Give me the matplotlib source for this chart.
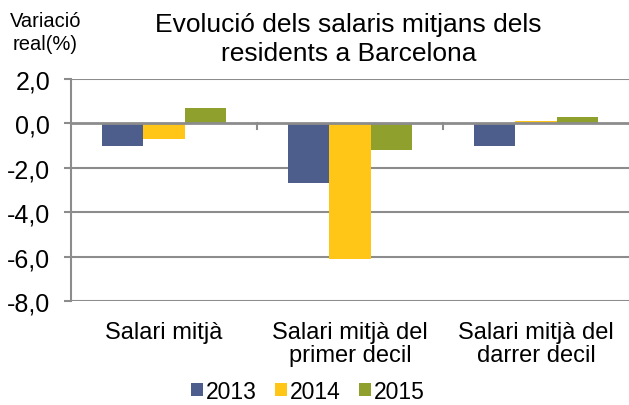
import numpy as np
import matplotlib.pyplot as plt

plt.rcParams["font.family"] = ["Liberation Sans", "DejaVu Sans"]

categories = ["Salari mitjà", "Salari mitjà del\nprimer decil", "Salari mitjà del\ndarrer decil"]
years = ["2013", "2014", "2015"]
v2013 = [-1.0, -2.7, -1.0]
v2014 = [-0.7, -6.1, 0.1]
v2015 = [0.7, -1.2, 0.3]
colors = ["#4D5E8C", "#FFC617", "#8FA12C"]
yticks = [2, 0, -2, -4, -6, -8]

fig = plt.figure(figsize=(6.29, 4.06), dpi=100)
ax = fig.add_axes([0.1129, 0.2554, 0.8871, 0.5476])

x = np.arange(len(categories))
w = 1 / 4.5
for i, (vals, c, lab) in enumerate(zip([v2013, v2014, v2015], colors, years)):
    ax.bar(x + (i - 1) * w, vals, w, color=c, label=lab, zorder=3)

ax.set_xlim(-0.5, 2.5)
ax.set_ylim(-8, 2)
ax.set_yticks(yticks)
ax.set_yticklabels([f"{t:.1f}".replace(".", ",") for t in yticks], fontsize=18)
for t in yticks:
    if t != 0:
        ax.axhline(t, color="#8C8C8C", lw=1.5, zorder=1)
ax.axhline(0, color="#8C8C8C", lw=2, zorder=4)

# category boundary ticks hanging from the zero line
for b in [0.5, 1.5]:
    ax.plot([b, b], [0, -0.25], color="#8C8C8C", lw=1.5, zorder=4, clip_on=False)

ax.set_xticks(x)
ax.set_xticklabels(categories, fontsize=17, linespacing=1.05)
ax.tick_params(axis="x", length=0, pad=14)
ax.tick_params(axis="y", color="#8C8C8C", length=5, width=1.5, pad=10)

for s in ["top", "right", "bottom"]:
    ax.spines[s].set_visible(False)
ax.spines["left"].set_color("#8C8C8C")
ax.spines["left"].set_linewidth(1.5)

fig.text(0.072, 0.918, "Variació\nreal(%)", ha="center", va="center", fontsize=14.5, linespacing=1.25)
fig.text(0.554, 0.902, "Evolució dels salaris mitjans dels\nresidents a Barcelona", ha="center",
         va="center", fontsize=19, linespacing=1.25)

fig.legend(loc="center", bbox_to_anchor=(0.49, 0.034), ncol=3, frameon=False, fontsize=16.5,
           handlelength=0.5, handleheight=0.5, handletextpad=0.15, columnspacing=0.8,
           borderpad=0.1)

fig.savefig("out.png", dpi=100)
